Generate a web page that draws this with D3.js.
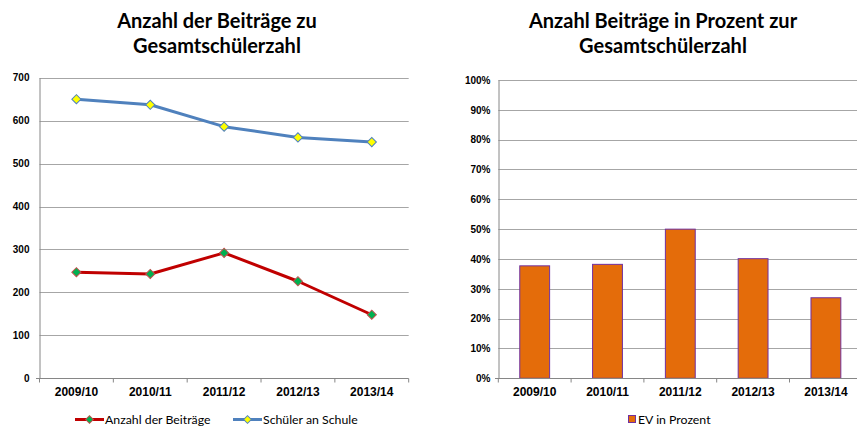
<!DOCTYPE html>
<html>
<head>
<meta charset="utf-8">
<script src="https://cdn.jsdelivr.net/npm/d3@7"></script>
<style>
  body { margin: 0; background: #fff; }
  svg { display: block; }
</style>
</head>
<body>
<div id="chart"></div>
<script>
// Chart data
const years = ["2009/10", "2010/11", "2011/12", "2012/13", "2013/14"];
const beitraege = [247, 243, 292, 226, 148];
const schueler = [650, 637, 586, 561, 550];
const evProzent = [0.377, 0.382, 0.50, 0.401, 0.27];
const leftTicks = [0, 100, 200, 300, 400, 500, 600, 700];
const rightTicks = [0, 0.1, 0.2, 0.3, 0.4, 0.5, 0.6, 0.7, 0.8, 0.9, 1.0];

const W = 857, H = 428;
const gridColor = "#a6a6a6";
const axisColor = "#868686";
const titleFont = "Lato, 'Open Sans', sans-serif";
const axisFont = "'Liberation Sans', Arial, sans-serif";

const svg = d3.select("#chart").append("svg")
    .attr("width", W)
    .attr("height", H);

// Titles
function title(cx, lines) {
    const t = svg.append("text")
        .attr("text-anchor", "middle")
        .attr("font-family", titleFont)
        .attr("font-weight", "bold")
        .attr("font-size", "20px")
        .attr("fill", "#000");
    lines.forEach((l, i) => {
        t.append("tspan").attr("x", cx).attr("y", 28 + i * 25).text(l);
    });
}
title(217, ["Anzahl der Beiträge zu", "Gesamtschülerzahl"]);
title(663, ["Anzahl Beiträge in Prozent zur", "Gesamtschülerzahl"]);

// ---------- Left chart: lines ----------
const x1 = d3.scaleBand().domain(years).range([39.5, 408.7]);
const y1 = d3.scaleLinear().domain([0, 700]).range([378.3, 77.7]);

const left = svg.append("g");

left.selectAll("line.grid")
    .data(leftTicks.filter(d => d > 0))
    .enter().append("line")
    .attr("x1", 39.5).attr("x2", 408.7)
    .attr("y1", d => Math.round(y1(d)) + 0.5)
    .attr("y2", d => Math.round(y1(d)) + 0.5)
    .attr("stroke", gridColor);

const yAxis1 = d3.axisLeft(y1).tickValues(leftTicks).tickSize(0).tickPadding(10);
const gy1 = left.append("g").attr("transform", "translate(39.5,0)").call(yAxis1);
gy1.select(".domain").attr("stroke", axisColor);
gy1.selectAll("text").attr("font-family", axisFont).attr("font-weight", "bold")
    .attr("font-size", "10px").attr("fill", "#000");

const xAxis1 = d3.axisBottom(x1).tickSize(0).tickPadding(9);
const gx1 = left.append("g").attr("transform", "translate(0,378.5)").call(xAxis1);
gx1.select(".domain").attr("stroke", axisColor).attr("d", "M36,0H408.7");
gx1.selectAll("text").attr("font-family", axisFont).attr("font-weight", "bold")
    .attr("font-size", "12px").attr("fill", "#000");
gx1.selectAll("line.bt")
    .data(years.concat(["end"]))
    .enter().append("line")
    .attr("class", "bt")
    .attr("x1", (d, i) => 39.5 + i * x1.bandwidth())
    .attr("x2", (d, i) => 39.5 + i * x1.bandwidth())
    .attr("y1", 0).attr("y2", 4)
    .attr("stroke", axisColor);

const cx1 = d => x1(d) + x1.bandwidth() / 2;

function series(vals, lineColor, fill, stroke) {
    const pts = years.map((y, i) => [cx1(y), y1(vals[i])]);
    left.append("path")
        .attr("d", d3.line()(pts))
        .attr("fill", "none")
        .attr("stroke", lineColor)
        .attr("stroke-width", 3)
        .attr("stroke-linejoin", "round");
    left.selectAll(null)
        .data(pts)
        .enter().append("path")
        .attr("d", d3.symbol().type(d3.symbolSquare).size(42))
        .attr("transform", d => `translate(${d[0]},${d[1]}) rotate(45)`)
        .attr("fill", fill)
        .attr("stroke", stroke)
        .attr("stroke-width", 1);
}
series(schueler, "#4f81bd", "#ffff00", "#4f81bd");
series(beitraege, "#c00000", "#00b050", "#c0504d");

// ---------- Right chart: bars ----------
const x2 = d3.scaleBand().domain(years).range([498.3, 862.3]);
const y2 = d3.scaleLinear().domain([0, 1]).range([378.3, 80]);

const right = svg.append("g");

right.selectAll("line.grid")
    .data(rightTicks.filter(d => d > 0))
    .enter().append("line")
    .attr("x1", 498.3).attr("x2", W)
    .attr("y1", d => Math.round(y2(d)) + 0.5)
    .attr("y2", d => Math.round(y2(d)) + 0.5)
    .attr("stroke", gridColor);

const yAxis2 = d3.axisLeft(y2).tickValues(rightTicks).tickFormat(d3.format(".0%"))
    .tickSize(0).tickPadding(8);
const gy2 = right.append("g").attr("transform", "translate(498.5,0)").call(yAxis2);
gy2.select(".domain").attr("stroke", axisColor);
gy2.selectAll("text").attr("font-family", axisFont).attr("font-weight", "bold")
    .attr("font-size", "10px").attr("fill", "#000");

const barW = x2.bandwidth() * 0.41;
right.selectAll("rect.bar")
    .data(evProzent)
    .enter().append("rect")
    .attr("class", "bar")
    .attr("x", (d, i) => x2(years[i]) + (x2.bandwidth() - barW) / 2)
    .attr("y", d => y2(d))
    .attr("width", barW)
    .attr("height", d => y2(0) - y2(d))
    .attr("fill", "#e46c0a")
    .attr("stroke", "#7030a0")
    .attr("stroke-width", 1);

const xAxis2 = d3.axisBottom(x2).tickSize(0).tickPadding(9);
const gx2 = right.append("g").attr("transform", "translate(0,378.5)").call(xAxis2);
gx2.select(".domain").attr("stroke", axisColor).attr("d", "M495,0H" + W);
gx2.selectAll("text").attr("font-family", axisFont).attr("font-weight", "bold")
    .attr("font-size", "12px").attr("fill", "#000");
gx2.selectAll("line.bt")
    .data(years)
    .enter().append("line")
    .attr("class", "bt")
    .attr("x1", (d, i) => 498.3 + i * x2.bandwidth())
    .attr("x2", (d, i) => 498.3 + i * x2.bandwidth())
    .attr("y1", 0).attr("y2", 4)
    .attr("stroke", axisColor);

// ---------- Legends ----------
const legend = svg.append("g")
    .attr("font-family", titleFont)
    .attr("font-size", "12.3px")
    .attr("fill", "#000");

const legendItems = [
    { label: "Anzahl der Beiträge", x: 75, line: "#c00000", fill: "#00b050", stroke: "#c0504d" },
    { label: "Schüler an Schule", x: 233, line: "#4f81bd", fill: "#ffff00", stroke: "#4f81bd" }
];
legendItems.forEach(it => {
    legend.append("line")
        .attr("x1", it.x).attr("x2", it.x + 29)
        .attr("y1", 419.5).attr("y2", 419.5)
        .attr("stroke", it.line).attr("stroke-width", 3);
    legend.append("path")
        .attr("d", d3.symbol().type(d3.symbolSquare).size(30))
        .attr("transform", `translate(${it.x + 14.5},419.5) rotate(45)`)
        .attr("fill", it.fill).attr("stroke", it.stroke);
    legend.append("text")
        .attr("x", it.x + 30).attr("y", 423.5)
        .text(it.label);
});

legend.append("rect")
    .attr("x", 628.5).attr("y", 415.5).attr("width", 7).attr("height", 7)
    .attr("fill", "#e46c0a").attr("stroke", "#7030a0");
legend.append("text")
    .attr("x", 638).attr("y", 423.5)
    .text("EV in Prozent");
</script>
</body>
</html>
